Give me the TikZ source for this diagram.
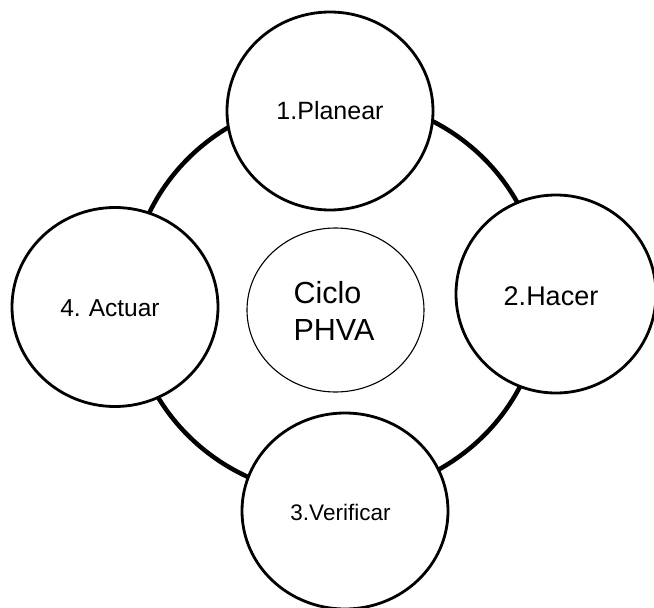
\documentclass[tikz,border=0pt]{standalone}
\usepackage{fontspec}
\setmainfont{Liberation Sans}
\usetikzlibrary{shapes.geometric}
\tikzset{
  ring/.style={draw, ellipse, line width=4.5pt, inner sep=0pt},
  stage/.style={draw, ellipse, fill=white, line width=2.8pt, inner sep=0pt},
  hub/.style={draw, ellipse, fill=white, line width=1.1pt, inner sep=0pt},
  stagetext/.style={inner sep=0pt},
}
\begin{document}
\begin{tikzpicture}[x=1pt, y=-1pt]
  \useasboundingbox (0,0) rectangle (654,608);
  % outer cycle
  \node[ring, minimum width=412pt, minimum height=398pt] (cycle) at (336,297) {};
  % the four stages
  \node[stage, minimum width=206pt, minimum height=198pt] (p1) at (330,111) {};
  \node[stage, minimum width=200pt, minimum height=198pt] (p2) at (556,294) {};
  \node[stage, minimum width=206pt, minimum height=196pt] (p3) at (345,511) {};
  \node[stage, minimum width=206pt, minimum height=199pt] (p4) at (115,307) {};
  \node[stagetext, font=\fontsize{25}{30}\selectfont] (t1) at (330,111) {1.Planear};
  \node[stagetext, font=\fontsize{27}{32}\selectfont] (t2) at (551,296) {2.Hacer};
  \node[stagetext, font=\fontsize{22.5}{27}\selectfont] (t3) at (340.5,512) {3.Verificar};
  \node[stagetext, font=\fontsize{24.5}{29}\selectfont] (t4) at (110,308) {4.\kern-1pt{} Actuar};
  % centre
  \node[hub, minimum width=177pt, minimum height=164pt] (hub) at (335.5,310) {};
  \node[stagetext, align=left, font=\fontsize{30.5}{37}\selectfont] (ht) at (334,311) {Ciclo\\PHVA};
\end{tikzpicture}
\end{document}
